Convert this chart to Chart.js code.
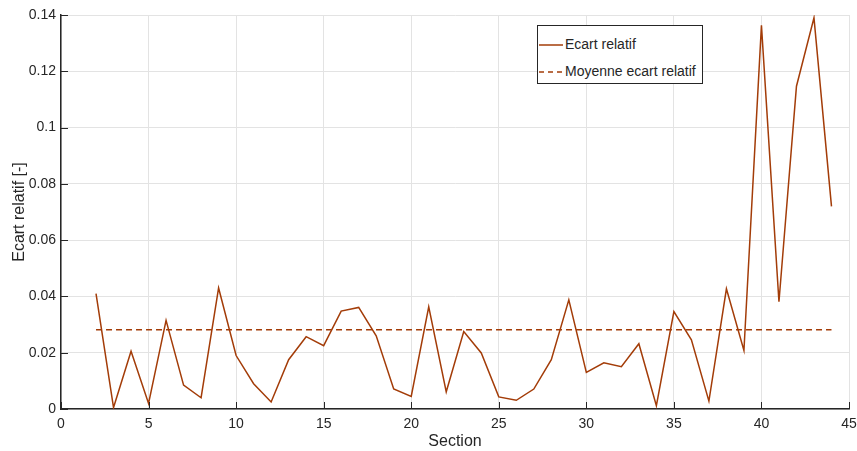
<!DOCTYPE html>
<html>
<head>
<meta charset="utf-8">
<script src="https://cdn.jsdelivr.net/npm/chart.js@4.4.1/dist/chart.umd.min.js"></script>
<style>
  body { margin: 0; background: #fff; }
  #wrap { position: relative; width: 857px; height: 451px; }
  #legend {
    position: absolute; left: 537px; top: 25px; width: 164px; height: 57px;
    border: 1px solid #262626; background: #fff;
    font-family: "Liberation Sans", Arial, sans-serif; font-size: 14px; color: #262626;
  }
  .item { position: absolute; left: 0px; height: 16px; line-height: 16px; white-space: nowrap; }
  .item svg { vertical-align: middle; margin-right: 2px; }
</style>
</head>
<body>
<div id="wrap">
  <canvas id="chart" width="857" height="451"></canvas>
  <div id="legend">
    <div class="item" style="top:10px"><svg width="25" height="4"><line x1="1" y1="2" x2="25" y2="2" stroke="#a33c08" stroke-width="1.5"/></svg>Ecart relatif</div>
    <div class="item" style="top:37px"><svg width="25" height="4"><line x1="1" y1="2" x2="25" y2="2" stroke="#a33c08" stroke-width="1.5" stroke-dasharray="5,4"/></svg>Moyenne ecart relatif</div>
  </div>
</div>
<script>
var sections = [2, 3, 4, 5, 6, 7, 8, 9, 10, 11, 12, 13, 14, 15, 16, 17, 18, 19, 20, 21, 22, 23,
    24, 25, 26, 27, 28, 29, 30, 31, 32, 33, 34, 35, 36, 37, 38, 39, 40, 41, 42, 43, 44];
var ecart = [0.041, 0.0005, 0.0205, 0.002, 0.0315, 0.0085, 0.004, 0.043, 0.019, 0.009, 0.0025,
    0.0175, 0.0257, 0.0225, 0.0348, 0.0361, 0.026, 0.0071, 0.0045, 0.0363, 0.0061, 0.0275,
    0.0199, 0.0043, 0.0031, 0.0071, 0.0175, 0.0388, 0.013, 0.0164, 0.015, 0.0232, 0.0012,
    0.0346, 0.0246, 0.0028, 0.0427, 0.0208, 0.1363, 0.0381, 0.1147, 0.139, 0.072];
var meanSections = [2, 44];
var meanValues = [0.0282, 0.0282];
var xTicks = [0, 5, 10, 15, 20, 25, 30, 35, 40, 45];
var yTicks = [0, 0.02, 0.04, 0.06, 0.08, 0.1, 0.12, 0.14];

var lineColor = '#a33c08';
var axisColor = '#262626';
var font = { family: '"Liberation Sans", Arial, sans-serif', size: 14 };
var titleFont = { family: '"Liberation Sans", Arial, sans-serif', size: 16 };

function toPoints(xs, ys) {
    var pts = [];
    for (let i = 0; i < xs.length; i++) {
        pts.push({ x: xs[i], y: ys[i] });
    }
    return pts;
}

// MATLAB style ticks pointing inside the axes
var innerTicks = {
    id: 'innerTicks',
    afterDraw: function (chart) {
        let ctx = chart.ctx;
        let xs = chart.scales.x, ys = chart.scales.y;
        let area = chart.chartArea;
        ctx.save();
        ctx.strokeStyle = axisColor;
        ctx.lineWidth = 1;
        ctx.beginPath();
        xTicks.forEach(v => {
            let px = Math.round(xs.getPixelForValue(v)) + 0.5;
            ctx.moveTo(px, area.bottom);
            ctx.lineTo(px, area.bottom - 7);
        });
        yTicks.forEach(v => {
            let py = Math.round(ys.getPixelForValue(v)) + 0.5;
            ctx.moveTo(area.left, py);
            ctx.lineTo(area.left + 7, py);
        });
        ctx.stroke();
        ctx.restore();
    }
};

new Chart('chart', {
    type: 'line',
    data: {
        datasets: [{
            label: 'Ecart relatif',
            data: toPoints(sections, ecart),
            borderColor: lineColor,
            borderWidth: 1.5,
            pointRadius: 0,
            tension: 0
        }, {
            label: 'Moyenne ecart relatif',
            data: toPoints(meanSections, meanValues),
            borderColor: lineColor,
            borderWidth: 1.5,
            borderDash: [6, 4],
            pointRadius: 0
        }]
    },
    options: {
        responsive: false,
        animation: false,
        layout: { padding: { top: 15, right: 8, left: 10, bottom: 0 } },
        plugins: { legend: { display: false }, tooltip: { enabled: false } },
        scales: {
            x: {
                type: 'linear',
                min: 0, max: 45,
                afterBuildTicks: function (scale) { scale.ticks = xTicks.map(v => ({ value: v })); },
                afterFit: function (scale) {
                    scale.height = 42;
                    scale.paddingLeft = 0;
                    scale.paddingRight = 0;
                },
                grid: { color: '#e3e3e3', drawTicks: false },
                border: { color: axisColor, width: 1.5 },
                ticks: { color: axisColor, font: font, padding: 7, maxRotation: 0 },
                title: { display: true, text: 'Section', color: axisColor, font: titleFont, padding: { top: 0, bottom: 0 } }
            },
            y: {
                min: 0, max: 0.14,
                afterBuildTicks: function (scale) { scale.ticks = yTicks.map(v => ({ value: v })); },
                afterFit: function (scale) {
                    scale.width = 51;
                    scale.paddingTop = 0;
                    scale.paddingBottom = 0;
                },
                grid: { color: '#e3e3e3', drawTicks: false },
                border: { color: axisColor, width: 1.5 },
                ticks: {
                    color: axisColor, font: font, padding: 5,
                    callback: function (v) { return String(Number(v.toFixed(2))); }
                },
                title: { display: true, text: 'Ecart relatif [-]', color: axisColor, font: titleFont, padding: { top: 0, bottom: 0 } }
            }
        }
    },
    plugins: [innerTicks]
});
</script>
</body>
</html>
